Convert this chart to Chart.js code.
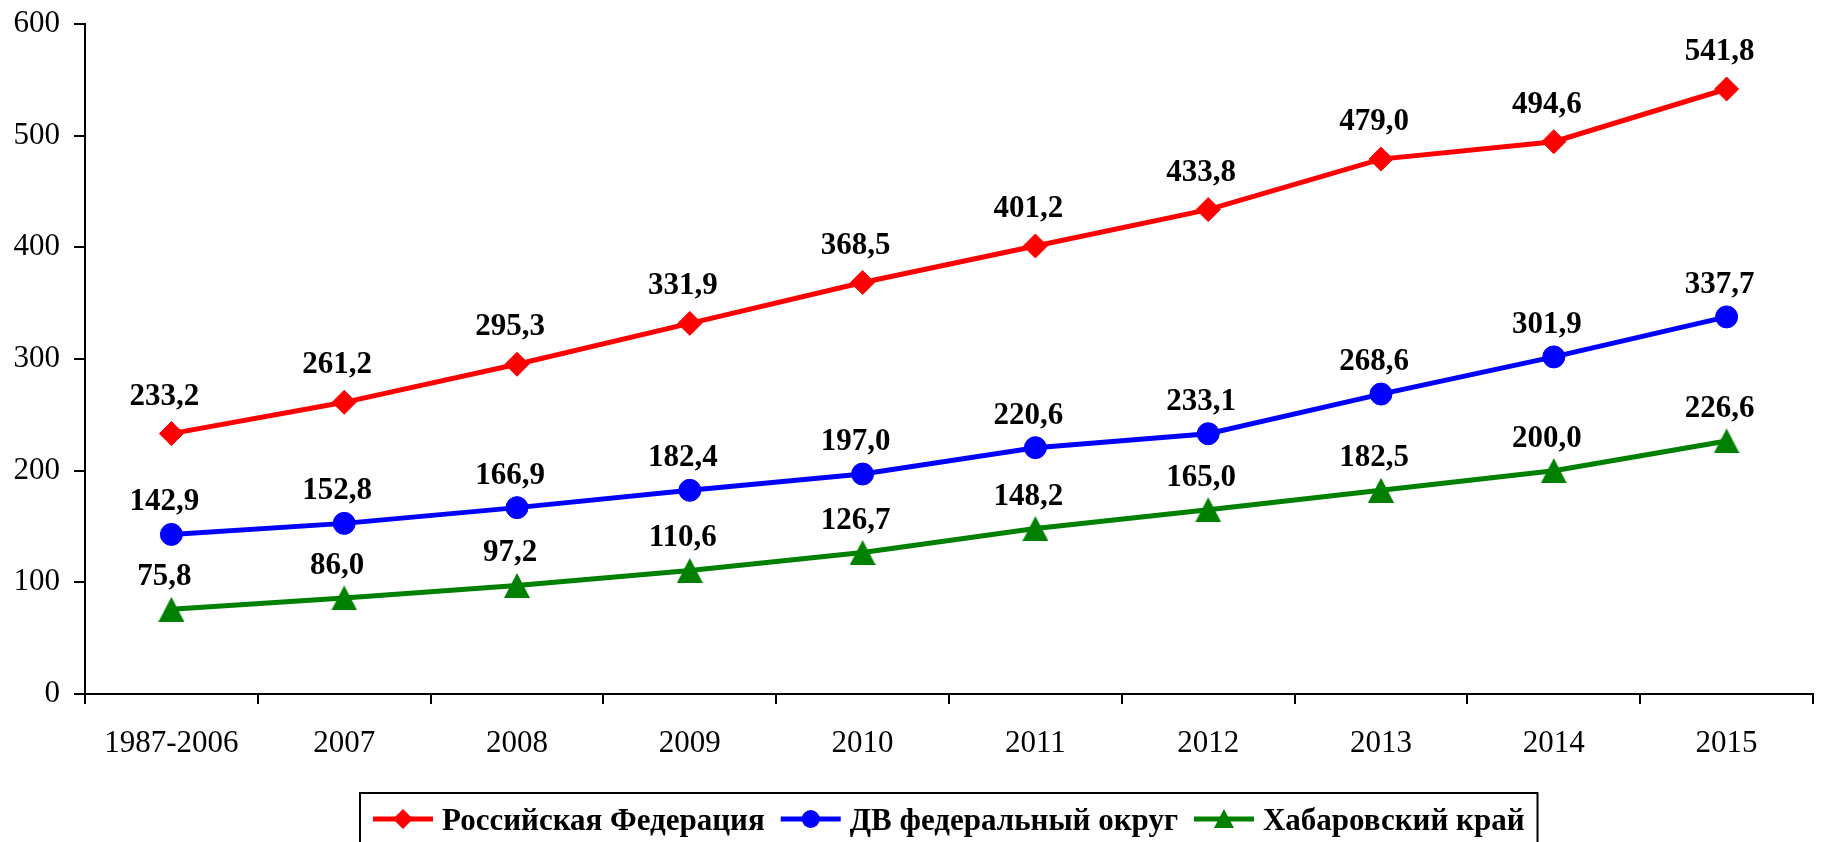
<!DOCTYPE html>
<html lang="ru">
<head>
<meta charset="utf-8">
<title>Динамика показателя, 1987–2015</title>
<script src="https://cdn.jsdelivr.net/npm/chart.js@4.4.1/dist/chart.umd.min.js"></script>
<style>
  html, body { margin: 0; padding: 0; background: #fff; }
  canvas { display: block; }
</style>
</head>
<body>
<canvas id="chart" width="1831" height="842"></canvas>
<script>
// Periods on the horizontal axis
const categories = ['1987-2006', '2007', '2008', '2009', '2010', '2011', '2012', '2013', '2014', '2015'];

// Series values
const russia = [233.2, 261.2, 295.3, 331.9, 368.5, 401.2, 433.8, 479.0, 494.6, 541.8];
const farEast = [142.9, 152.8, 166.9, 182.4, 197.0, 220.6, 233.1, 268.6, 301.9, 337.7];
const khabarovsk = [75.8, 86.0, 97.2, 110.6, 126.7, 148.2, 165.0, 182.5, 200.0, 226.6];

// Series names
const seriesNames = ['Российская Федерация', 'ДВ федеральный округ', 'Хабаровский край'];

// Value axis ticks
const yTicks = [0, 100, 200, 300, 400, 500, 600];

const FONT = "'Liberation Serif', 'Times New Roman', serif";
const RED = '#ff0000';
const BLUE = '#0000ff';
const GREEN = '#008000';

// Equal-height triangle marker, centred on the point
function makeTriangle(w, h, color) {
  const c = document.createElement('canvas');
  c.width = w; c.height = h;
  const g = c.getContext('2d');
  g.fillStyle = color;
  g.beginPath();
  g.moveTo(w / 2, 0);
  g.lineTo(w, h);
  g.lineTo(0, h);
  g.closePath();
  g.fill();
  return c;
}
const triangleMarker = makeTriangle(26, 25, GREEN);

const fmt = v => v.toFixed(1).replace('.', ',');

// Value labels above every point
const valueLabels = {
  id: 'valueLabels',
  afterDatasetsDraw(chart) {
    const ctx = chart.ctx;
    ctx.save();
    ctx.font = 'bold 31px ' + FONT;
    ctx.fillStyle = '#000';
    ctx.textAlign = 'center';
    ctx.textBaseline = 'alphabetic';
    chart.data.datasets.forEach((ds, i) => {
      const meta = chart.getDatasetMeta(i);
      meta.data.forEach((pt, j) => {
        ctx.fillText(fmt(ds.data[j]), pt.x - 7, pt.y - ds.labelLift);
      });
    });
    ctx.restore();
  }
};

// Boxed legend under the plot
function legendMarker(ctx, kind, x, y, color) {
  ctx.fillStyle = color;
  ctx.beginPath();
  if (kind === 'diamond') {
    ctx.moveTo(x, y - 10); ctx.lineTo(x + 10, y); ctx.lineTo(x, y + 10); ctx.lineTo(x - 10, y);
  } else if (kind === 'circle') {
    ctx.arc(x, y, 9, 0, Math.PI * 2);
  } else {
    ctx.moveTo(x, y - 10); ctx.lineTo(x + 10, y + 9); ctx.lineTo(x - 10, y + 9);
  }
  ctx.closePath();
  ctx.fill();
}

const boxedLegend = {
  id: 'boxedLegend',
  afterDraw(chart) {
    const ctx = chart.ctx;
    const area = chart.chartArea;
    ctx.save();
    ctx.font = 'bold 31px ' + FONT;
    const kinds = ['diamond', 'circle', 'triangle'];
    const colors = [RED, BLUE, GREEN];
    const lineLen = 60, gapText = 9, gapItem = 16, pad = 13;
    const widths = seriesNames.map(n => ctx.measureText(n).width);
    let total = pad * 2;
    widths.forEach((w, i) => { total += lineLen + gapText + w + (i < widths.length - 1 ? gapItem : 0); });
    const cx = (area.left + area.right) / 2;
    const left = Math.round(cx - total / 2);
    const top = 793;
    const cy = 819;
    ctx.strokeStyle = '#000';
    ctx.lineWidth = 2;
    ctx.strokeRect(left, top, total, 60);
    let x = left + pad;
    seriesNames.forEach((name, i) => {
      ctx.strokeStyle = colors[i];
      ctx.lineWidth = 5;
      ctx.beginPath();
      ctx.moveTo(x, cy); ctx.lineTo(x + lineLen, cy);
      ctx.stroke();
      legendMarker(ctx, kinds[i], x + lineLen / 2, cy, colors[i]);
      x += lineLen + gapText;
      ctx.fillStyle = '#000';
      ctx.textAlign = 'left';
      ctx.textBaseline = 'alphabetic';
      ctx.fillText(name, x, cy + 11);
      x += widths[i] + gapItem;
    });
    ctx.restore();
  }
};

new Chart(document.getElementById('chart'), {
  type: 'line',
  data: {
    labels: categories,
    datasets: [
      {
        label: seriesNames[0], data: russia,
        borderColor: RED, backgroundColor: RED, borderWidth: 5,
        pointStyle: 'rectRot', pointRadius: 12, pointBorderWidth: 1,
        labelLift: 29
      },
      {
        label: seriesNames[1], data: farEast,
        borderColor: BLUE, backgroundColor: BLUE, borderWidth: 5,
        pointStyle: 'circle', pointRadius: 11, pointBorderWidth: 1,
        labelLift: 24
      },
      {
        label: seriesNames[2], data: khabarovsk,
        borderColor: GREEN, backgroundColor: GREEN, borderWidth: 5,
        pointStyle: triangleMarker, pointRadius: 13,
        labelLift: 24
      }
    ]
  },
  options: {
    responsive: false,
    devicePixelRatio: 1,
    animation: false,
    layout: { padding: { top: 24, right: -3, left: 0, bottom: 0 } },
    plugins: {
      legend: { display: false },
      tooltip: { enabled: false }
    },
    elements: { line: { tension: 0 } },
    scales: {
      x: {
        offset: true,
        grid: { offset: true, drawOnChartArea: false, tickLength: 10, color: '#000', lineWidth: 2 },
        border: { color: '#000', width: 2 },
        ticks: { color: '#000', font: { family: FONT, size: 31 }, padding: 21, maxRotation: 0, autoSkip: false },
        afterFit(scale) {
          scale.height = 148;
          scale.paddingLeft = 0;
          scale.paddingRight = 0;
        }
      },
      y: {
        min: yTicks[0],
        max: yTicks[yTicks.length - 1],
        afterBuildTicks(scale) { scale.ticks = yTicks.map(v => ({ value: v })); },
        grid: { drawOnChartArea: false, tickLength: 11, color: '#000', lineWidth: 2 },
        border: { color: '#000', width: 2 },
        ticks: { color: '#000', font: { family: FONT, size: 31 }, padding: 14, callback: v => String(v) },
        afterFit(scale) {
          scale.width = 85;
          scale.paddingTop = 0;
          scale.paddingBottom = 0;
        }
      }
    }
  },
  plugins: [valueLabels, boxedLegend]
});
</script>
</body>
</html>
